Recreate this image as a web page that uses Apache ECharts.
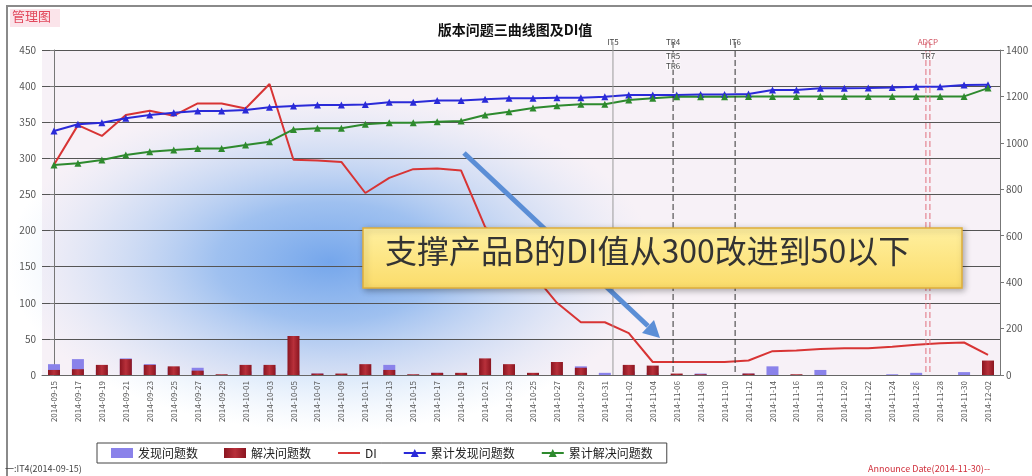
<!DOCTYPE html>
<html>
<head>
<meta charset="utf-8">
<script src="https://cdn.jsdelivr.net/npm/echarts@6/dist/echarts.min.js"></script>
<style>
  html, body { margin: 0; padding: 0; background: #fff; }
  #main { width: 1032px; height: 476px; }
</style>
</head>
<body>
<div id="main"></div>
<script>
// 日期（横坐标）
var dates = [
  '2014-09-15', '2014-09-17', '2014-09-19', '2014-09-21', '2014-09-23', '2014-09-25', '2014-09-27', '2014-09-29',
  '2014-10-01', '2014-10-03', '2014-10-05', '2014-10-07', '2014-10-09', '2014-10-11', '2014-10-13', '2014-10-15',
  '2014-10-17', '2014-10-19', '2014-10-21', '2014-10-23', '2014-10-25', '2014-10-27', '2014-10-29', '2014-10-31',
  '2014-11-02', '2014-11-04', '2014-11-06', '2014-11-08', '2014-11-10', '2014-11-12', '2014-11-14', '2014-11-16',
  '2014-11-18', '2014-11-20', '2014-11-22', '2014-11-24', '2014-11-26', '2014-11-28', '2014-11-30', '2014-12-02'
];
// 发现问题数 / 解决问题数（左轴）
var found = [15, 22, 7, 23, 15, 10, 10, 0, 5, 10, 6, 2, 0, 2, 14, 0, 3, 0, 6, 4,
             0, 2, 12, 3, 5, 3, 0, 2, 0, 2, 12, 0, 7, 0, 0, 1, 3, 0, 4, 1];
var solved = [7, 8, 14, 22, 14, 12, 6, 1, 14, 14, 54, 2, 2, 15, 7, 1, 3, 3, 23, 15,
              3, 18, 10, 0, 14, 13, 2, 1, 0, 2, 0, 1, 0, 0, 0, 0, 0, 0, 0, 20];
// DI值（左轴）
var di = [291, 346, 331, 360, 366, 359, 376, 376, 369, 403, 298, 297, 295, 252, 273, 285, 286, 283, 205, 180,
          140, 100, 73, 73, 58, 18, 18, 18, 18, 20, 33, 34, 36, 37, 37, 39, 42, 44, 45, 28];
// 累计发现 / 累计解决（右轴）
var cumFound = [1051, 1080, 1087, 1106, 1120, 1130, 1137, 1137, 1142, 1153, 1159, 1163, 1163, 1165, 1175, 1175,
                1182, 1182, 1188, 1192, 1192, 1194, 1194, 1199, 1206, 1206, 1206, 1208, 1208, 1210, 1228, 1228,
                1235, 1235, 1236, 1238, 1242, 1242, 1249, 1250];
var cumSolved = [905, 912, 926, 948, 962, 969, 976, 976, 991, 1005, 1058, 1063, 1063, 1080, 1087, 1087,
                 1091, 1094, 1120, 1134, 1150, 1160, 1166, 1166, 1185, 1192, 1199, 1199, 1199, 1200, 1200, 1200,
                 1200, 1200, 1200, 1200, 1200, 1200, 1200, 1236];
// 里程碑（位置为日期序号，可落在两个日期之间）
var milestones = [
  { pos: 23.34, top: ['IT5'], below: [], color: '#9a9a9a', type: 'solid' },
  { pos: 25.85, top: ['TR4'], below: ['TR5', 'TR6'], color: '#333', type: 'dashed' },
  { pos: 28.44, top: ['IT6'], below: [], color: '#333', type: 'dashed' },
  { pos: 36.49, top: ['ADCP'], below: ['TR7'], color: '#e0707e', type: 'dashed' }
];

var cjk = '"Noto Sans CJK SC", "Noto Sans", sans-serif';
var chart = echarts.init(document.getElementById('main'));

var option = {
  animation: false,
  backgroundColor: '#fff',
  textStyle: { fontFamily: cjk },
  title: {
    text: '版本问题三曲线图及DI值',
    left: 510, top: 18, textAlign: 'center',
    textStyle: { fontSize: 14, fontWeight: 'bold', color: '#111', fontFamily: cjk }
  },
  legend: {
    left: 97, top: 443,
    padding: [4, 14], itemGap: 26,
    borderColor: '#444', borderWidth: 1, backgroundColor: '#fff',
    itemWidth: 22, itemHeight: 10,
    textStyle: { fontSize: 12, color: '#222' },
    data: [
      { name: '发现问题数', icon: 'rect' },
      { name: '解决问题数', icon: 'rect' },
      { name: 'DI', itemStyle: { opacity: 0 } },
      '累计发现问题数', '累计解决问题数'
    ]
  },
  grid: {
    left: 42, right: 32, top: 50, bottom: 101,
    show: true, backgroundColor: '#f7f1f7', borderWidth: 0
  },
  xAxis: [{
    type: 'category',
    data: dates,
    axisLine: { lineStyle: { color: '#666' } },
    axisTick: { alignWithLabel: false, lineStyle: { color: '#666' } },
    axisLabel: { rotate: 90, fontSize: 8, color: '#555', margin: 6, interval: 0 }
  }, {
    type: 'value', min: -0.5, max: 39.5, show: false
  }],
  yAxis: [{
    type: 'value', min: 0, max: 450, interval: 50,
    axisLine: { show: true, lineStyle: { color: '#777' } },
    axisTick: { show: true, length: 4, lineStyle: { color: '#777' } },
    axisLabel: { fontSize: 10, color: '#555', margin: 6 },
    splitLine: { lineStyle: { color: '#555', width: 1 } }
  }, {
    type: 'value', min: 0, max: 1400, interval: 200,
    axisLine: { show: true, lineStyle: { color: '#777' } },
    axisTick: { show: true, length: 4, lineStyle: { color: '#777' } },
    axisLabel: { fontSize: 10, color: '#555', margin: 6, formatter: function (v) { return String(v); } },
    splitLine: { show: false }
  }],
  graphic: [
    // 外框
    { type: 'rect', z: 100, silent: true,
      shape: { x: 7, y: 6, width: 1040, height: 490 },
      style: { fill: null, stroke: '#8a8a8a', lineWidth: 2 } },
    // 左上角标记
    { type: 'rect', z: 100, shape: { x: 10, y: 9, width: 50, height: 18 },
      style: { fill: '#fbe4ea' } },
    { type: 'text', z: 101, left: 12, top: 10,
      style: { text: '管理图', fill: '#e2485c', font: '13px ' + cjk } },
    // 蓝色光晕（圆形渐变，横向拉伸）
    { type: 'circle', z: 0, silent: true,
      x: 330, y: 262, scaleX: 1.9, scaleY: 1,
      shape: { cx: 0, cy: 0, r: 170 },
      style: {
        fill: new echarts.graphic.RadialGradient(0.5, 0.5, 0.5, [
          { offset: 0, color: 'rgba(80, 145, 232, 0.78)' },
          { offset: 0.35, color: 'rgba(100, 160, 235, 0.6)' },
          { offset: 0.7, color: 'rgba(150, 190, 240, 0.3)' },
          { offset: 1, color: 'rgba(190, 215, 245, 0)' }
        ])
      } },
    // 箭头
    { type: 'line', z: 120, silent: true,
      shape: { x1: 464, y1: 153, x2: 648, y2: 326 },
      style: { stroke: '#5b8ed6', lineWidth: 5 } },
    { type: 'polygon', z: 120, silent: true,
      shape: { points: [[660, 338], [642, 333], [654, 320]] },
      style: { fill: '#5b8ed6' } },
    // 说明框
    { type: 'rect', z: 130, silent: true,
      shape: { x: 363, y: 228, width: 599, height: 60 },
      style: {
        fill: new echarts.graphic.LinearGradient(0, 0, 0, 1, [
          { offset: 0, color: '#fff0a0' },
          { offset: 1, color: '#fbdc6a' }
        ]),
        stroke: '#e0ae3a', lineWidth: 1.5,
        shadowBlur: 6, shadowColor: 'rgba(0,0,0,0.3)', shadowOffsetX: 2, shadowOffsetY: 2
      } },
    { type: 'text', z: 131, silent: true, left: 385, top: 235,
      style: { text: '支撑产品B的DI值从300改进到50以下', fill: '#333', font: '32px ' + cjk } },
    // 底部说明
    { type: 'text', z: 100, left: 5, top: 464,
      style: { text: '一:IT4(2014-09-15)', fill: '#444', font: '9px ' + cjk } },
    { type: 'text', z: 100, left: 868, top: 464,
      style: { text: 'Announce Date(2014-11-30)--', fill: '#d0303c', font: '9px ' + cjk } }
  ],
  series: [
    {
      name: '发现问题数', type: 'bar', data: found, barWidth: 12, barGap: '-100%',
      itemStyle: { color: '#8a82ea' }, z: 2
    },
    {
      name: '解决问题数', type: 'bar', data: solved, barWidth: 12,
      itemStyle: {
        color: new echarts.graphic.LinearGradient(0, 0, 1, 0, [
          { offset: 0, color: '#8a1520' },
          { offset: 0.5, color: '#b8303a' },
          { offset: 1, color: '#8a1520' }
        ])
      }, z: 3
    },
    {
      name: 'DI', type: 'line', data: di, showSymbol: false, symbol: 'none',
      lineStyle: { color: '#d83434', width: 2 }, itemStyle: { color: '#d83434' }, z: 5
    },
    {
      name: '累计发现问题数', type: 'line', yAxisIndex: 1, data: cumFound,
      symbol: 'triangle', symbolSize: 7,
      lineStyle: { color: '#2a2ad8', width: 2 }, itemStyle: { color: '#2a2ad8' }, z: 6
    },
    {
      name: '累计解决问题数', type: 'line', yAxisIndex: 1, data: cumSolved,
      symbol: 'triangle', symbolSize: 7,
      lineStyle: { color: '#2e8a2e', width: 2 }, itemStyle: { color: '#2e8a2e' }, z: 6
    },
    {
      name: 'milestone', type: 'custom', xAxisIndex: 1, yAxisIndex: 0, z: 7,
      data: milestones.map(function (m, i) { return [m.pos, i]; }),
      renderItem: function (params, api) {
        var m = milestones[api.value(1)];
        var top = api.coord([api.value(0), 450]);
        var bottom = api.coord([api.value(0), 0]);
        var dash = m.type === 'dashed' ? [6, 3] : null;
        var children = [];
        var offsets = m.color === '#e0707e' ? [-2, 2] : [0];
        offsets.forEach(function (d) {
          children.push({
            type: 'line',
            shape: { x1: top[0] + d, y1: top[1] - 8, x2: bottom[0] + d, y2: bottom[1] },
            style: { stroke: m.color, lineWidth: 1, lineDash: dash }
          });
        });
        m.top.forEach(function (t) {
          children.push({ type: 'text', style: {
            text: t, x: top[0], y: top[1] - 4, align: 'center', verticalAlign: 'bottom',
            fill: m.color === '#e0707e' ? '#d0505e' : '#444', font: '8px ' + cjk } });
        });
        m.below.forEach(function (t, k) {
          children.push({ type: 'text', style: {
            text: t, x: top[0], y: top[1] + 2 + k * 10, align: 'center', verticalAlign: 'top',
            fill: '#444', backgroundColor: 'rgba(255,255,255,0.6)', font: '8px ' + cjk } });
        });
        return { type: 'group', children: children };
      }
    }
  ]
};

chart.setOption(option);
</script>
</body>
</html>
